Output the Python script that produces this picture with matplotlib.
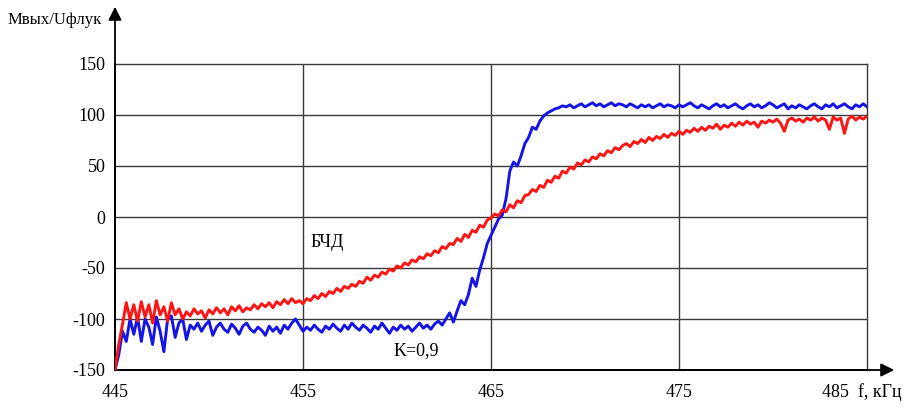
import numpy as np
import matplotlib
matplotlib.use('Agg')
import matplotlib.pyplot as plt

plt.rcParams['font.family'] = ['Liberation Serif', 'DejaVu Serif']
plt.rcParams['axes.unicode_minus'] = False

# frequency grid, kHz (0.2 kHz step)
f_khz = np.round(np.arange(445.0, 485.01, 0.2), 1)

# discriminator without feedback (БЧД)
red_vals = [
    -150, -125, -105, -84, -100, -86, -102, -83, -98, -86,
    -104, -82, -96, -88, -102, -84, -96, -90, -100, -93,
    -97, -90, -95, -92, -99, -91, -95, -89, -94, -90,
    -96, -88, -92, -87, -93, -89, -91, -86, -90, -85,
    -88, -84, -89, -83, -86, -81, -85, -80, -84, -82,
    -85, -80, -82, -77, -80, -75, -78, -73, -75, -70,
    -73, -68, -70, -66, -68, -63, -65, -59, -62, -57,
    -59, -54, -56, -51, -53, -48, -50, -45, -47, -42,
    -44, -39, -41, -36, -38, -33, -35, -29, -31, -26,
    -27, -21, -24, -17, -20, -13, -15, -8, -10, -3,
    -1, 3, 1, 7, 5, 12, 9, 16, 14, 21,
    22, 27, 25, 31, 29, 36, 34, 40, 38, 45,
    43, 49, 47, 53, 51, 56, 54, 59, 57, 62,
    60, 65, 63, 68, 66, 70,
    72, 69, 74, 72, 76, 73, 78, 75, 79, 77,
    81, 78, 82, 80, 84, 81, 85, 83, 87, 84,
    88, 85, 89, 87, 91, 86, 90, 88, 92, 89,
    93, 90, 94, 91, 93, 88, 94, 92, 95, 93,
    96, 92, 84, 95, 97, 94, 96, 93, 97, 95,
    98, 94, 97, 95, 86, 98, 95, 97, 82, 96,
    99, 95, 98, 96, 99,
]

# with feedback, K=0,9
blue_vals = [
    -150, -135, -112, -122, -100, -115, -98, -122, -100, -108,
    -125, -98, -112, -132, -100, -97, -118, -104, -100, -120,
    -106, -110, -104, -112, -106, -102, -116, -108, -104, -110,
    -113, -105, -109, -115, -107, -104, -110, -113, -108, -111,
    -116, -107, -112, -108, -114, -106, -110, -104, -100, -106,
    -112, -108, -111, -106, -110, -113, -107, -110, -105, -109,
    -112, -106, -110, -104, -108, -111, -106, -109, -113, -107,
    -110, -104, -109, -114, -108, -111, -106, -110, -107, -112,
    -108, -104, -109, -106, -110, -105, -102, -106, -100, -94,
    -103, -92, -82, -86, -76, -60, -68, -52, -40, -26,
    -18, -10, -2, 2, 18, 45, 54, 50, 60, 72,
    78, 88, 86, 94, 99, 102, 104, 106, 107, 109,
    108,
    110, 107, 109, 111, 108, 110, 112, 109, 111, 108,
    110, 112, 109, 111, 110, 108, 111, 109, 107, 110,
    108, 110, 107, 109, 111, 108, 110, 109, 107, 110,
    108, 110, 112, 109, 107, 110, 108, 106, 109, 111,
    108, 110, 107, 109, 111, 108, 106, 109, 111, 108,
    110, 107, 109, 112, 110, 107, 109, 111, 106, 109,
    107, 110, 108, 106, 109, 111, 108, 106, 110, 108,
    111, 107, 109, 111, 108, 106, 110, 108, 111, 108,
]

y_ticks = [-150, -100, -50, 0, 50, 100, 150]
x_ticks = [445, 455, 465, 475]

W, H = 912, 415
fig = plt.figure(figsize=(W / 100, H / 100), dpi=100)
x0, x1, y0, y1 = 115, 867, 64, 370
ax = fig.add_axes([x0 / W, 1 - y1 / H, (x1 - x0) / W, (y1 - y0) / H])

ax.plot(f_khz, blue_vals, color='#1414e6', lw=2.1, zorder=3)
ax.plot(f_khz, red_vals, color='#ff1414', lw=2.1, zorder=4)

ax.set_xlim(445, 485)
ax.set_ylim(-150, 150)

for v in y_ticks[1:-1]:
    ax.axhline(v, color='#3a3a3a', lw=1.0, zorder=1)
for f in x_ticks[1:]:
    ax.axvline(f, color='#3a3a3a', lw=1.0, zorder=1)

for side in ['top', 'right']:
    ax.spines[side].set_color('#3a3a3a')
    ax.spines[side].set_linewidth(1.0)
for side in ['left', 'bottom']:
    ax.spines[side].set_linewidth(1.3)

ax.set_xticks(x_ticks)
ax.set_yticks(y_ticks)
ax.tick_params(axis='y', length=0, labelsize=13, pad=7)
ax.tick_params(axis='x', length=0, labelsize=13, pad=10)
ax.set_xticklabels([str(t) for t in x_ticks])

# arrow heads on the axes
bx, by = x0 / W, 1 - y1 / H
ax.annotate('', xy=(897 / W, by), xytext=(bx, by), xycoords='figure fraction',
            arrowprops=dict(arrowstyle='-|>', color='black', lw=1.3, mutation_scale=20))
ax.annotate('', xy=(bx, 1 - 4 / H), xytext=(bx, by), xycoords='figure fraction',
            arrowprops=dict(arrowstyle='-|>', color='black', lw=1.3, mutation_scale=20))

fig.text(822 / W, 1 - 392 / H, '485  f, кГц', fontsize=13, va='center', ha='left')
fig.text(8 / W, 1 - 20 / H, 'Мвых/Uфлук', fontsize=12, va='center', ha='left')

ax.text(456.3, -25, 'БЧД', fontsize=13, ha='center', va='center')
ax.text(461.0, -131, 'K=0,9', fontsize=13, ha='center', va='center')

fig.savefig('out.png', dpi=100)
